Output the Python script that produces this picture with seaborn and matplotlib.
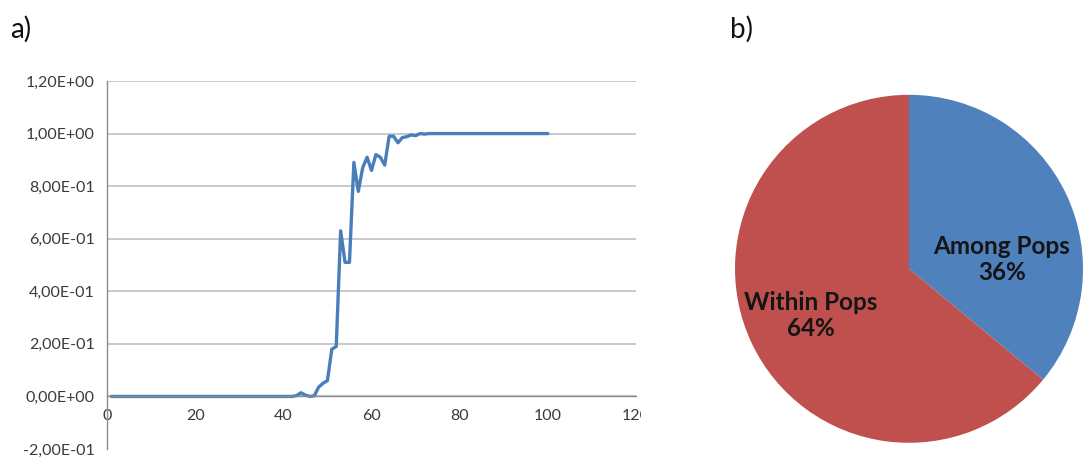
import matplotlib
matplotlib.use("Agg")
import matplotlib.pyplot as plt
import matplotlib.transforms as mtransforms
import seaborn as sns
import pandas as pd

# panel a: cumulative curve, x = 1..100
x_vals = list(range(1, 101))
y_vals = ([0.0] * 42 +
          [0.003, 0.014, 0.005, 0.0, 0.002, 0.035, 0.05, 0.06,
           0.18, 0.19, 0.63, 0.51, 0.51, 0.89, 0.78, 0.87, 0.91, 0.86,
           0.92, 0.91, 0.88, 0.99, 0.99, 0.965, 0.985, 0.988, 0.995, 0.992,
           1.0, 0.998, 1.0] +
          [1.0] * 27)

# panel b: AMOVA partition
pie_labels = ["Among Pops", "Within Pops"]
pie_values = [36, 64]
pie_colors = ["#4F81BD", "#C0504D"]

sns.set_style("white")
plt.rcParams["font.family"] = ["Lato", "DejaVu Sans"]

fig = plt.figure(figsize=(10.84, 4.59), dpi=100)

# ---- a) line chart
ax = fig.add_axes([107 / 1084, 1 - 449 / 459, (636 - 107) / 1084, (449 - 81) / 459])
df = pd.DataFrame({"x": x_vals, "y": y_vals})
sns.lineplot(data=df, x="x", y="y", ax=ax, color="#4A7EBB", linewidth=2.4)
ax.set_xlim(0, 120)
ax.set_ylim(-0.2, 1.2)
ax.set_xticks(range(0, 121, 20))
yt = [-0.2, 0.0, 0.2, 0.4, 0.6, 0.8, 1.0, 1.2]
ax.set_yticks(yt)
ax.set_yticklabels([f"{v:.2E}".replace(".", ",") for v in yt])
ax.set_xlabel("")
ax.set_ylabel("")
ax.grid(axis="y", color="#C0C0C0", linewidth=1.2)
ax.get_ygridlines()[0].set_visible(False)
for s in ["top", "right"]:
    ax.spines[s].set_visible(False)
ax.spines["bottom"].set_position(("data", 0))
for s in ["left", "bottom"]:
    ax.spines[s].set_color("#8C8C8C")
    ax.spines[s].set_linewidth(1.0)
ax.tick_params(axis="both", direction="out", length=5, width=1.0, color="#8C8C8C",
               labelsize=11.5, labelcolor="#3A3A3A")
ax.tick_params(axis="x", pad=4)
ax.tick_params(axis="y", pad=4)

# the original chart crops its last x label ("12(")
clip = mtransforms.Bbox.from_extents(0, 0, 641, 459)
last = ax.xaxis.get_major_ticks()[-1].label1
last.set_clip_on(True)
last.set_clip_box(mtransforms.TransformedBbox(clip, mtransforms.IdentityTransform()))

fig.text(10 / 1084, 1 - 38 / 459, "a)", fontsize=20, color="#111111")
fig.text(730 / 1084, 1 - 38 / 459, "b)", fontsize=20, color="#111111")

# ---- b) pie chart
r = 174
cx, cy = 909, 268.8
pax = fig.add_axes([(cx - r) / 1084, 1 - (cy + r) / 459, 2 * r / 1084, 2 * r / 459])
pax.pie(pie_values, colors=pie_colors, startangle=90, counterclock=False, radius=1.0,
        wedgeprops={"edgecolor": "none", "linewidth": 0})
pax.set_xlim(-1, 1)
pax.set_ylim(-1, 1)
pax.set_aspect("equal")

label_pos = [(0.533, 0.053), (-0.563, -0.266)]
for name, val, (tx, ty) in zip(pie_labels, pie_values, label_pos):
    pax.text(tx, ty, f"{name}\n{val}%", ha="center", va="center", fontsize=17.5,
             fontweight="bold", color="#151515", linespacing=1.15)

fig.savefig("out.png", dpi=100)
